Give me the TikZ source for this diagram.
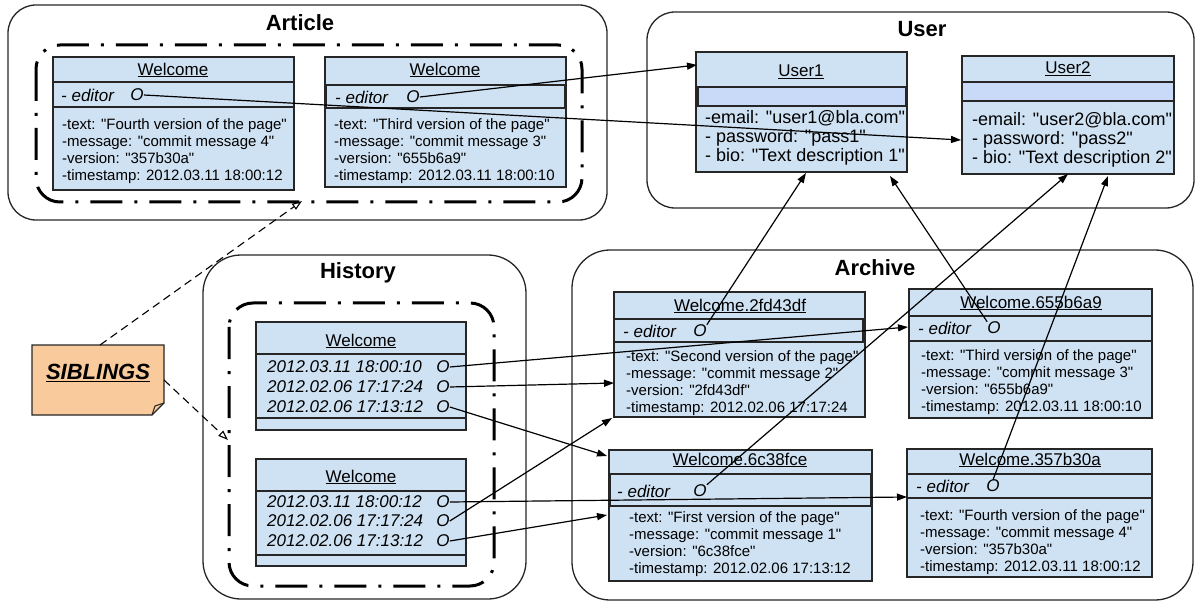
\documentclass[tikz,border=0pt]{standalone}
\usepackage{fontspec}
\setmainfont{Liberation Sans}[Ligatures=TeXOff]
\usetikzlibrary{arrows.meta}
\definecolor{boxfill}{HTML}{CFE2F3}
\definecolor{bandfill}{HTML}{C9DAF8}
\definecolor{notefill}{HTML}{F9CB9C}
\definecolor{edge}{HTML}{262626}
\tikzset{
  container/.style={draw=edge, line width=1.3pt, rounded corners=28pt},
  bigcontainer/.style={draw=edge, line width=1.3pt, rounded corners=38pt},
  groupline/.style={draw=black, line width=3pt, dash pattern=on 32pt off 12pt on 3pt off 12pt, rounded corners=24pt},
  clsbox/.style={draw=edge, fill=boxfill, line width=1.5pt},
  sepline/.style={draw=edge, line width=1.8pt},
  rowbox/.style={draw=edge, line width=2pt},
  bandbox/.style={draw=edge, fill=bandfill, line width=1.5pt},
  ctitle/.style={font=\fontsize{22}{26}\selectfont\bfseries, inner sep=0pt},
  cname/.style={font=\fontsize{17}{20}\selectfont, inner sep=0pt},
  editortxt/.style={font=\fontsize{17}{20}\selectfont\itshape, inner sep=0pt, anchor=west},
  datetxt/.style={font=\fontsize{17}{20}\selectfont\itshape, inner sep=0pt, anchor=west},
  omark/.style={font=\fontsize{17}{20}\selectfont\itshape, inner sep=0pt},
  attr/.style={font=\fontsize{15}{17}\selectfont, align=left, anchor=west, inner sep=0pt},
  uattr/.style={font=\fontsize{18}{19}\selectfont, align=left, anchor=west, inner sep=0pt},
  link/.style={draw=black, line width=1.2pt, -{Triangle[length=10pt,width=7pt]}},
  dashlink/.style={draw=black, line width=1.1pt, dash pattern=on 8pt off 5pt, -{Triangle[open,length=10pt,width=7pt]}},
  notebox/.style={draw=edge, fill=notefill, line width=1.3pt},
}
\begin{document}
\begin{tikzpicture}[x=1pt,y=-1pt]
\useasboundingbox (0,0) rectangle (1195,604);

% ---------------- containers ----------------
\draw[container] (8,5) rectangle (607,220);
\node[ctitle] (tArticle) at (300,23) {Article};
\draw[groupline] (36,45) rectangle (582,202);

\draw[container] (647,12) rectangle (1194,208);
\node[ctitle] (tUser) at (922,29) {User};

\draw[bigcontainer] (203,255) rectangle (526,599);
\node[ctitle] (tHistory) at (358,273) {History};
\draw[groupline] (229,303) rectangle (494,586);

\draw[bigcontainer] (572,250) rectangle (1193,600);
\node[ctitle] (tArchive) at (875,268) {Archive};

% ---------------- Article boxes ----------------
\draw[clsbox] (53,57) rectangle (294,190);
\draw[sepline] (53,82) -- (294,82);
\draw[sepline] (53,107) -- (294,107);
\node[cname] (a1n) at (173,70) {\underline{Welcome}};
\node[editortxt] (a1e) at (61,95) {- editor};
\node[omark] (a1o) at (137,95) {O};
\node[attr] (a1a) at (62,151.5) {-text: "Fourth version of the page"\\-message: "commit message 4"\\-version: "357b30a"\\-timestamp: 2012.03.11 18:00:12};

\draw[clsbox] (325,57) rectangle (566,187);
\draw[rowbox] (326,85) rectangle (565,108);
\node[cname] (a2n) at (445,70) {\underline{Welcome}};
\node[editortxt] (a2e) at (335,97) {- editor};
\node[omark] (a2o) at (413,97) {O};
\node[attr] (a2a) at (334,151) {-text: "Third version of the page"\\-message: "commit message 3"\\-version: "655b6a9"\\-timestamp: 2012.03.11 18:00:10};

% ---------------- User boxes ----------------
\draw[clsbox] (696,52) rectangle (907,172);
\draw[bandbox] (698,87) rectangle (906,106);
\node[cname] (u1n) at (801,72) {\underline{User1}};
\node[uattr] (u1a) at (705,138) {-email: "user1@bla.com"\\- password: "pass1"\\- bio: "Text description 1"};

\draw[clsbox] (962,56) rectangle (1174,174);
\draw[bandbox] (962,82) rectangle (1174,101);
\node[cname] (u2n) at (1068,69) {\underline{User2}};
\node[uattr] (u2a) at (972,140) {-email: "user2@bla.com"\\- password: "pass2"\\- bio: "Text description 2"};

% ---------------- History boxes ----------------
\draw[clsbox] (256,322) rectangle (466,430);
\draw[sepline] (256,354) -- (466,354);
\draw[sepline] (256,418) -- (466,418);
\node[cname] (h1n) at (361,341) {\underline{Welcome}};
\node[datetxt] (h1d1) at (267,367) {2012.03.11 18:00:10};
\node[datetxt] (h1d2) at (267,387) {2012.02.06 17:17:24};
\node[datetxt] (h1d3) at (267,407) {2012.02.06 17:13:12};
\node[omark] (h1o1) at (443,367) {O};
\node[omark] (h1o2) at (443,387) {O};
\node[omark] (h1o3) at (443,407) {O};

\draw[clsbox] (256,459) rectangle (466,566);
\draw[sepline] (256,491) -- (466,491);
\draw[sepline] (256,555) -- (466,555);
\node[cname] (h2n) at (361,477) {\underline{Welcome}};
\node[datetxt] (h2d1) at (267,502) {2012.03.11 18:00:12};
\node[datetxt] (h2d2) at (267,521) {2012.02.06 17:17:24};
\node[datetxt] (h2d3) at (267,541) {2012.02.06 17:13:12};
\node[omark] (h2o1) at (443,502) {O};
\node[omark] (h2o2) at (443,521) {O};
\node[omark] (h2o3) at (443,541) {O};

% ---------------- Archive boxes ----------------
\draw[clsbox] (614,292) rectangle (865,417);
\draw[rowbox] (614,319) rectangle (863,342);
\node[cname] (w2n) at (740,306) {\underline{Welcome.2fd43df}};
\node[editortxt] (w2e) at (623,331) {- editor};
\node[omark] (w2o) at (700,331) {O};
\node[attr] (w2a) at (626,383) {-text: "Second version of the page"\\-message: "commit message 2"\\-version: "2fd43df"\\-timestamp: 2012.02.06 17:17:24};

\draw[clsbox] (909,289) rectangle (1152,418);
\draw[rowbox] (909,316) rectangle (1152,341);
\node[cname] (w3n) at (1031,303) {\underline{Welcome.655b6a9}};
\node[editortxt] (w3e) at (918,328) {- editor};
\node[omark] (w3o) at (994,328) {O};
\node[attr] (w3a) at (921,382.5) {-text: "Third version of the page"\\-message: "commit message 3"\\-version: "655b6a9"\\-timestamp: 2012.03.11 18:00:10};

\draw[clsbox] (609,450) rectangle (872,581);
\draw[rowbox] (610,474) rectangle (871,506);
\node[cname] (w1n) at (740,460) {\underline{Welcome.6c38fce}};
\node[editortxt] (w1e) at (617,491) {- editor};
\node[omark] (w1o) at (700,491) {O};
\node[attr] (w1a) at (629,544) {-text: "First version of the page"\\-message: "commit message 1"\\-version: "6c38fce"\\-timestamp: 2012.02.06 17:13:12};

\draw[clsbox] (907,449) rectangle (1152,577);
\draw[rowbox] (907,474) rectangle (1152,498);
\node[cname] (w4n) at (1030,460) {\underline{Welcome.357b30a}};
\node[editortxt] (w4e) at (916,486) {- editor};
\node[omark] (w4o) at (993,486) {O};
\node[attr] (w4a) at (920,542) {-text: "Fourth version of the page"\\-message: "commit message 4"\\-version: "357b30a"\\-timestamp: 2012.03.11 18:00:12};

% ---------------- SIBLINGS note ----------------
\draw[notebox] (32,345) -- (164,345) -- (164,403) -- (152,415) -- (32,415) -- cycle;
\draw[draw=edge, line width=1.1pt] (152,415) .. controls (154,410) .. (155,406) -- (164,403);
\node[font=\fontsize{22}{26}\selectfont\bfseries\itshape, inner sep=0pt] (sib) at (98,373) {\underline{SIBLINGS}};

% ---------------- connector end points ----------------
\coordinate (noteTop) at (100,345);
\coordinate (noteRight) at (164,380);
\coordinate (artGroup) at (302,201);
\coordinate (histGroup) at (228,440);
\coordinate (u1tl) at (697,65);
\coordinate (u1b) at (806,173);
\coordinate (u1br) at (890,176);
\coordinate (u2l) at (961,140);
\coordinate (u2b) at (1068,174);
\coordinate (u2br) at (1108,176);
\coordinate (w3in) at (908,327);
\coordinate (w2in) at (614,383);
\coordinate (w1tl) at (607,456);
\coordinate (w4in) at (907,497);
\coordinate (w2bl) at (612,418);
\coordinate (w1in) at (607,515);

% ---------------- connectors ----------------
\draw[dashlink] (noteTop) -- (artGroup);
\draw[dashlink] (noteRight) -- (histGroup);

\draw[link] (a1o.east) -- (u2l);
\draw[link] (a2o.east) -- (u1tl);
\draw[link] (w2o.north east) -- (u1b);
\draw[link] (w3o.north west) -- (u1br);
\draw[link] (w1o.north east) -- (u2b);
\draw[link] (w4o.north) -- (u2br);

\draw[link] (h1o1.east) -- (w3in);
\draw[link] (h1o2.east) -- (w2in);
\draw[link] (h1o3.east) -- (w1tl);
\draw[link] (h2o1.east) -- (w4in);
\draw[link] (h2o2.east) -- (w2bl);
\draw[link] (h2o3.east) -- (w1in);
\end{tikzpicture}
\end{document}
